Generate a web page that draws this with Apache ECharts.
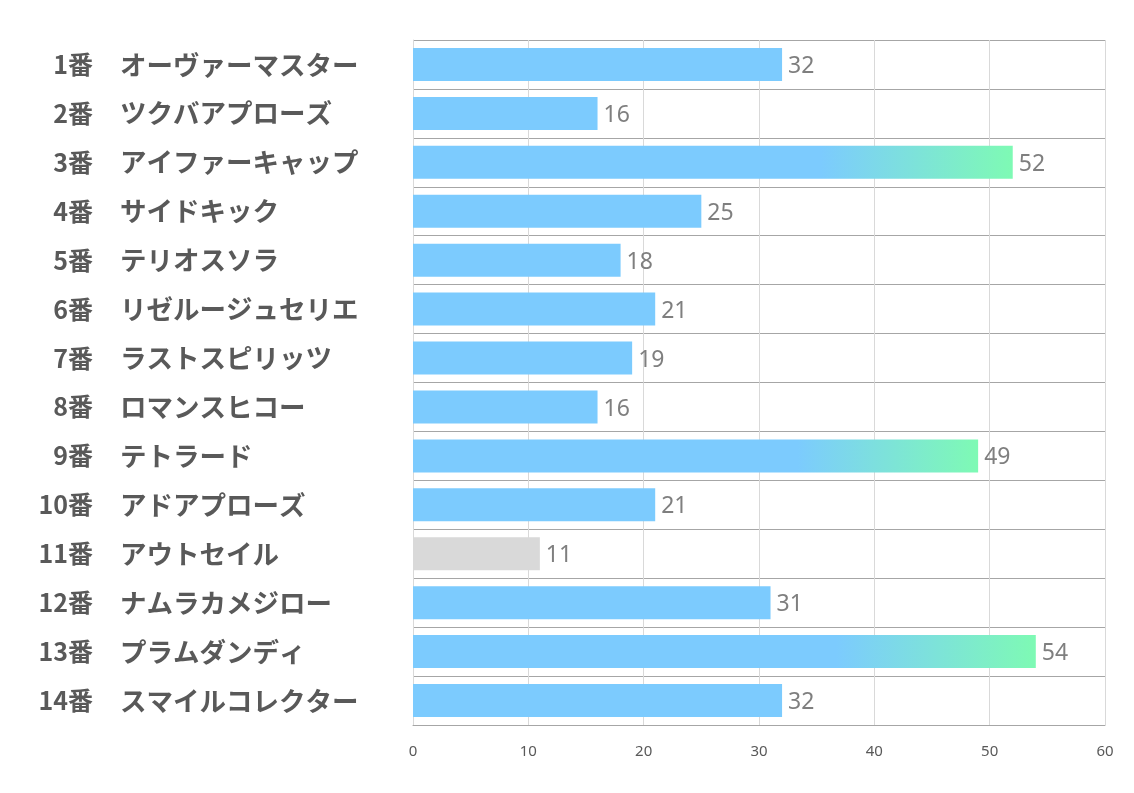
<!DOCTYPE html>
<html><head><meta charset="utf-8">
<script src="https://cdn.jsdelivr.net/npm/echarts@6/dist/echarts.min.js"></script>
<style>html,body{margin:0;padding:0;background:#fff}#c{width:1134px;height:793px}</style>
</head><body><div id="c"></div>
<script>
const numbers = ['1番','2番','3番','4番','5番','6番','7番','8番','9番','10番','11番','12番','13番','14番'];
const names = ['オーヴァーマスター','ツクバアプローズ','アイファーキャップ','サイドキック','テリオスソラ','リゼルージュセリエ','ラストスピリッツ','ロマンスヒコー','テトラード','アドアプローズ','アウトセイル','ナムラカメジロー','プラムダンディ','スマイルコレクター'];
const values = [32,16,52,25,18,21,19,16,49,21,11,31,54,32];
const xTicks = [0,10,20,30,40,50,60];

const sorted = values.slice().sort((a,b)=>b-a);
const top3 = sorted[2], bottom = sorted[sorted.length-1];
const blue = '#7CCBFE';
const grad = new echarts.graphic.LinearGradient(0,0,1,0,[
  {offset:0,color:blue},{offset:0.68,color:blue},{offset:1,color:'#7EFAB4'}]);
const data = values.map(v => ({
  value: v,
  itemStyle: {color: v >= top3 ? grad : (v === bottom ? '#D9D9D9' : blue)}
}));
const labelFont = {fontWeight:'bold',color:'#595959',fontFamily:'"Noto Sans CJK JP", sans-serif'};

const chart = echarts.init(document.getElementById('c'));
chart.setOption({
  animation:false,
  grid:{left:413,right:29,top:40,bottom:68,containLabel:false},
  xAxis:{type:'value',min:xTicks[0],max:xTicks[xTicks.length-1],interval:10,
    axisLine:{show:true,lineStyle:{color:'#A6A6A6',width:1}},
    axisTick:{show:false},
    splitLine:{show:true,lineStyle:{color:'#D9D9D9',width:1}},
    axisLabel:{color:'#595959',fontSize:15,margin:19,fontFamily:'"Noto Sans", sans-serif'}},
  yAxis:[
    {type:'category',inverse:true,data:numbers,
     axisLine:{show:true,lineStyle:{color:'#D9D9D9'}},
     axisTick:{show:false},
     splitLine:{show:true,lineStyle:{color:'#A6A6A6',width:1}},
     axisLabel:Object.assign({margin:320,align:'right',fontSize:25},labelFont)},
    {type:'category',inverse:true,data:names,position:'left',
     axisLine:{show:false},axisTick:{show:false},splitLine:{show:false},
     axisLabel:Object.assign({margin:293,align:'left',fontSize:26.5},labelFont)}
  ],
  series:[{type:'bar',yAxisIndex:0,data:data,barWidth:33,
    label:{show:true,position:'right',distance:6,offset:[0,2],color:'#7F7F7F',fontSize:23,fontFamily:'"Noto Sans", sans-serif'}}]
});
</script></body></html>
